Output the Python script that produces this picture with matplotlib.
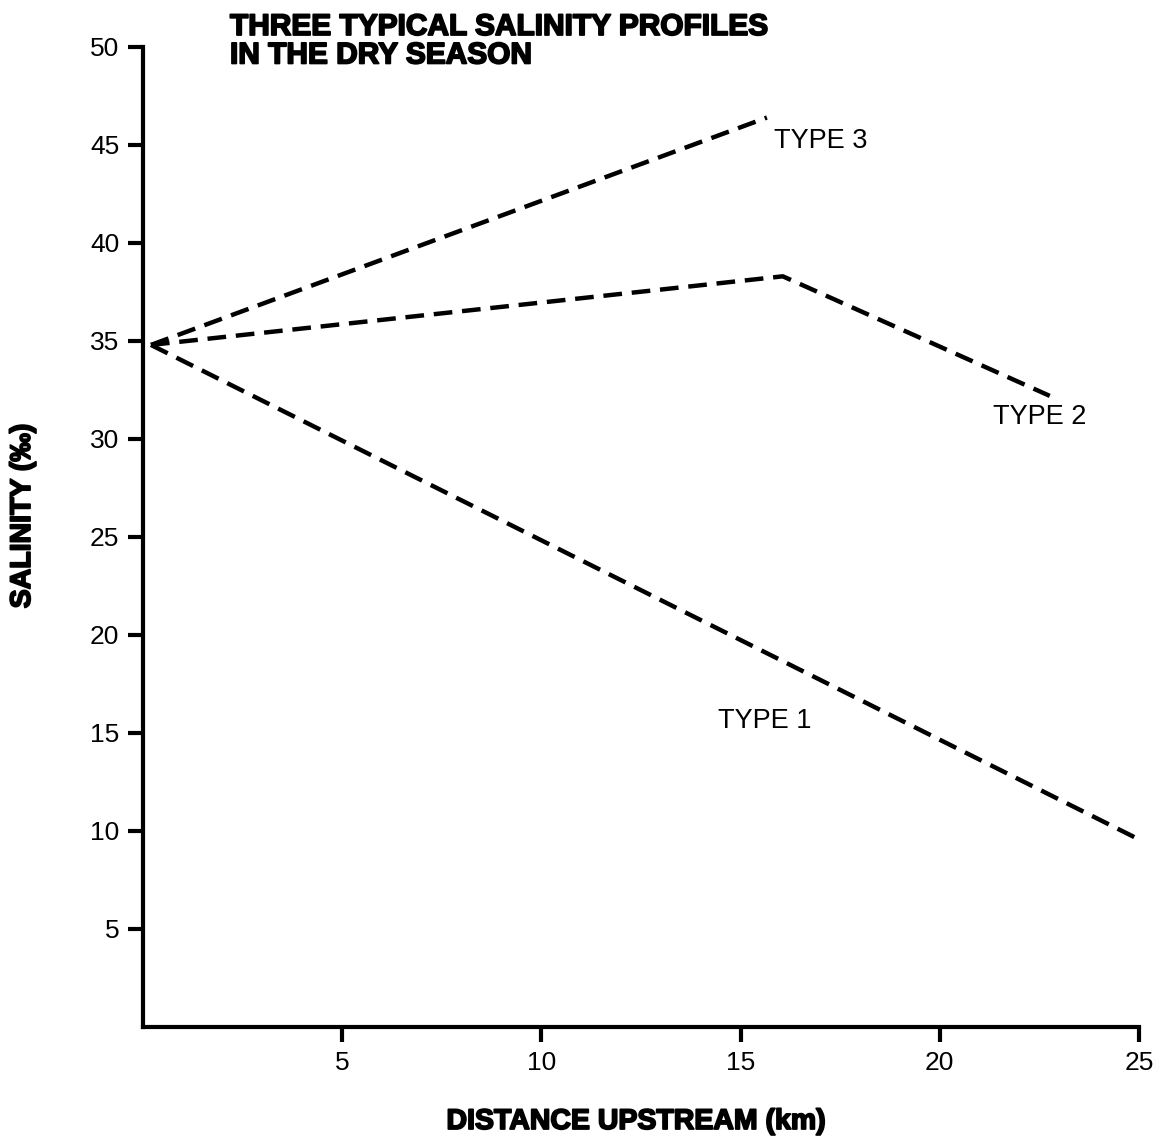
import matplotlib
matplotlib.use("Agg")
import matplotlib.pyplot as plt
import matplotlib.patheffects as pe

# Data
type1_x = [0.2, 24.97]
type1_y = [34.8, 9.6]
type2_x = [0.2, 16.06, 22.76]
type2_y = [34.8, 38.3, 32.2]
type3_x = [0.2, 15.66]
type3_y = [34.8, 46.4]

x_ticks = [5, 10, 15, 20, 25]
y_ticks = [5, 10, 15, 20, 25, 30, 35, 40, 45, 50]

labels = ["TYPE 1", "TYPE 2", "TYPE 3"]
label_pos = [(15.6, 15.6), (22.5, 31.1), (17.0, 45.2)]

plt.rcParams['font.family'] = ['Liberation Sans', 'DejaVu Sans']

fig = plt.figure(figsize=(11.64, 11.43), dpi=100)
ax = fig.add_axes([143/1164, 1 - 1027/1143, (1139-143)/1164, (1027-47)/1143])

dash = (4.2, 2.2)
for xs, ys in [(type1_x, type1_y), (type2_x, type2_y), (type3_x, type3_y)]:
    ax.plot(xs, ys, color='black', lw=3.2, dashes=dash, solid_joinstyle='round')

for lab, (lx, ly) in zip(labels, label_pos):
    ax.text(lx, ly, lab, fontsize=19.5, ha='center', va='center')

ax.set_xlim(0, 25)
ax.set_ylim(0, 50)
ax.set_xticks(x_ticks)
ax.set_yticks(y_ticks)
ax.spines['top'].set_visible(False)
ax.spines['right'].set_visible(False)
for s in ['left', 'bottom']:
    ax.spines[s].set_linewidth(3)
ax.tick_params(axis='both', direction='out', length=11, width=3, labelsize=19, pad=6)

heavy = [pe.withStroke(linewidth=1.3, foreground='black')]
ax.set_xlabel("DISTANCE UPSTREAM (km)", fontsize=20.5, fontweight='bold',
              path_effects=heavy, va='center', ha='center')
ax.xaxis.set_label_coords((636 - 143) / 996, -(1122 - 1027) / 980)
ax.set_ylabel("SALINITY (‰)", fontsize=20.5, fontweight='bold',
              path_effects=heavy, va='center', ha='center')
ax.yaxis.set_label_coords((23 - 143) / 996, (1027 - 516) / 980)

fig.text(230/1164, 1 - 13/1143, "THREE TYPICAL SALINITY PROFILES\nIN THE DRY SEASON",
         fontsize=21.5, fontweight='bold', ha='left', va='top', linespacing=1.02,
         path_effects=heavy)

fig.savefig("out.png", dpi=100)
